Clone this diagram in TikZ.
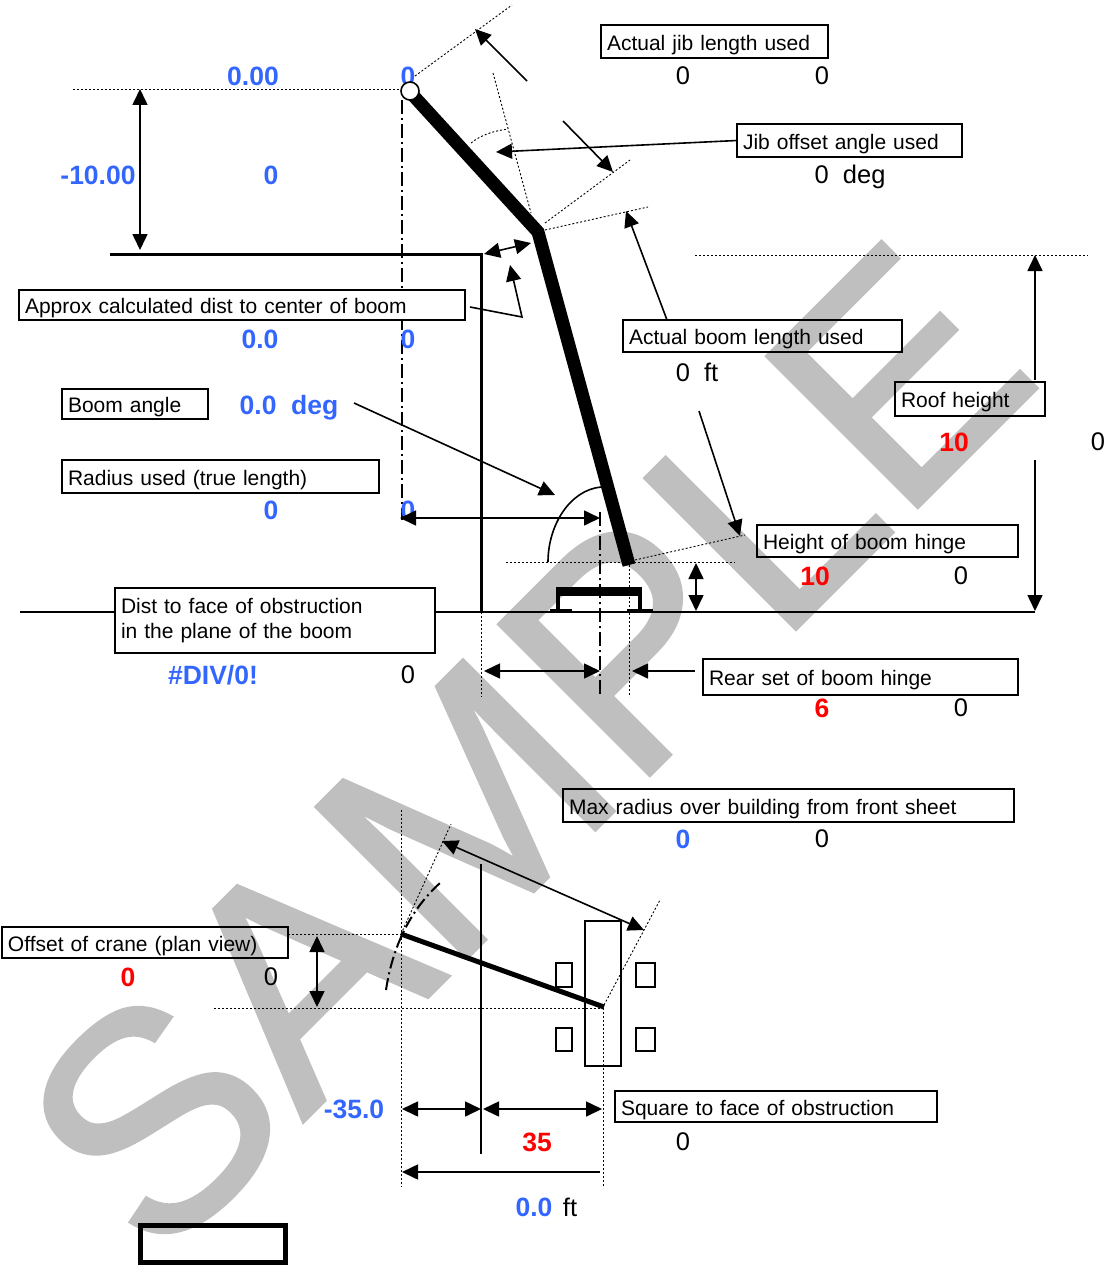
\documentclass[tikz,border=0pt]{standalone}
\usepackage{fontspec}
\setmainfont{Liberation Sans}
\newfontfamily\stampfont[FakeBold=1.2]{Liberation Sans}
\usepackage{color}
\usepackage{tikz}
\usetikzlibrary{arrows,arrows.meta,positioning,calc}
\definecolor{valblue}{HTML}{3366FF}
\definecolor{stampgray}{HTML}{BFBFBF}
\newcommand{\lowtext}[1]{\raisebox{-3.5pt}[\height][\depth]{#1}}
\tikzset{
  lblbox/.style={draw,rectangle,line width=1.6pt,anchor=north west,align=left,inner xsep=6pt,inner ysep=0pt,outer sep=0pt,font=\fontsize{21}{24.5}\selectfont},
  valblk/.style={font=\fontsize{25.5}{28}\selectfont,inner sep=0pt},
  valbl/.style={font=\fontsize{26.5}{28}\selectfont\bfseries,text=valblue,inner sep=0pt},
  valrd/.style={font=\fontsize{26.5}{28}\selectfont\bfseries,text=red,inner sep=0pt},
  refline/.style={dash pattern=on 2pt off 2pt,line width=.9pt},
  axisline/.style={dash pattern=on 14pt off 4pt on 2pt off 4pt,line width=1.6pt},
  arr/.style={arrows={-Stealth[length=16pt,width=15pt,inset=0pt]},line width=1.6pt},
  dbl/.style={arrows={Stealth[length=16pt,width=15pt,inset=0pt]-Stealth[length=16pt,width=15pt,inset=0pt]},line width=1.6pt}
}
\begin{document}
\begin{tikzpicture}[x=1pt,y=-1pt]
  \useasboundingbox (0,0) rectangle (1108,1268);
  % stamp behind the drawing
  \node[rotate=45,text=stampgray,inner sep=0pt,font=\fontsize{310}{310}\stampfont] (stamp) at (526,748) {SAMPLE};

  % center lines
  \draw[axisline] (402,100) -- (402,520);
  \draw[axisline] (600,512) -- (600,697);

  % label boxes
  \node[lblbox,text width=215pt,minimum height=33pt] (jiblen) at (601,25) {\lowtext{Actual jib length used}};
  \node[lblbox,text width=213pt,minimum height=33pt] (jibang) at (737,124) {\lowtext{Jib offset angle used}};
  \node[lblbox,text width=434pt,minimum height=30pt,fill=white] (approx) at (19,290) {\lowtext{Approx calculated dist to center of boom}};
  \node[lblbox,text width=267pt,minimum height=32pt] (boomlen) at (623,320) {\lowtext{Actual boom length used}};
  \node[lblbox,text width=134pt,minimum height=30pt] (boomang) at (62,389) {\lowtext{Boom angle}};
  \node[lblbox,text width=305pt,minimum height=33pt] (radius) at (62,460) {\lowtext{Radius used (true length)}};
  \node[lblbox,text width=138pt,minimum height=34pt] (roof) at (895,382) {\lowtext{Roof height}};
  \node[lblbox,text width=249pt,minimum height=32pt] (hinge) at (757,525) {\lowtext{Height of boom hinge}};
  \node[lblbox,text width=308pt,minimum height=65pt,fill=white] (face) at (115,588) {Dist to face of obstruction\\in the plane of the boom};
  \node[lblbox,text width=303pt,minimum height=36pt] (rear) at (703,659) {\lowtext{Rear set of boom hinge}};
  \node[lblbox,text width=439pt,minimum height=33pt] (maxrad) at (563,789) {\lowtext{Max radius over building from front sheet}};
  \node[lblbox,text width=274pt,minimum height=31pt] (offset) at (2,927) {\lowtext{Offset of crane (plan view)}};
  \node[lblbox,text width=310pt,minimum height=31pt] (square) at (615,1091) {\lowtext{Square to face of obstruction}};
  \node[draw,rectangle,line width=5pt,minimum width=145pt,minimum height=37pt,anchor=north west,outer sep=0pt] (blank) at (140,1225) {};

  % values
  \node[valbl] (tipr) at (253,76) {0.00};
  \node[valbl] (tipx) at (408,76) {0};
  \node[valbl] (droph) at (98,175) {-10.00};
  \node[valbl] (dropx) at (271,175) {0};
  \node[valbl] (distv) at (260,339) {0.0};
  \node[valbl] (distx) at (408,339) {0};
  \node[valbl] (angv) at (289,408) {0.0~~deg};
  \node[valbl] (radv) at (271,510) {0};
  \node[valbl] (radx) at (408,510) {0};
  \node[valbl] (facev) at (213,675) {\#DIV/0!};
  \node[valbl] (maxv) at (683,839) {0};
  \node[valbl] (sqv) at (354,1109) {-35.0};
  \node[valbl] (totv) at (534,1207) {0.0};
  \node[valblk] (totft) at (570,1207) {ft};
  \node[valblk] (jibv) at (683,76) {0};
  \node[valblk] (jibx) at (822,76) {0};
  \node[valblk] (jibd) at (850,177) {0~~deg};
  \node[valblk] (boomv) at (697,372) {0~~ft};
  \node[valblk] (roofx) at (1098,442) {0};
  \node[valblk] (hingex) at (961,576) {0};
  \node[valblk] (facex) at (408,675) {0};
  \node[valblk] (rearx) at (961,708) {0};
  \node[valblk] (maxx) at (822,839) {0};
  \node[valblk] (offx) at (271,977) {0};
  \node[valblk] (sqx) at (683,1142) {0};
  \node[valrd] (roofv) at (954,442) {10};
  \node[valrd] (hingev) at (815,576) {10};
  \node[valrd] (rearv) at (822,708) {6};
  \node[valrd] (offv) at (128,977) {0};
  \node[valrd] (wallv) at (537,1142) {35};

  % side view, reference lines
  \draw[refline] (73,89) -- (400,89);
  \draw[refline] (415,76) -- (512,5);
  \draw[refline] (493,73) -- (531,213);
  \draw[refline] (545,223) -- (630,160);
  \draw[refline] (545,230) -- (648,207);
  \draw[refline] (471,143) .. controls (481,135) and (493,131) .. (508,129);
  \draw[refline] (695,255) -- (1088,255);
  \draw[refline] (506,562) -- (735,562);
  \draw[refline] (635,560) -- (745,535);
  \draw[refline] (481,612) -- (481,697);
  \draw[refline] (629,565) -- (629,697);

  % building and ground
  \draw[line width=3pt] (110,254) -- (481,254) -- (481,612);
  \draw[line width=2.5pt] (20,612) -- (face.west |- 20,612);
  \draw[line width=2.5pt] (face.east |- 20,612) -- (1035,612);

  % boom and jib
  \draw[line width=13pt,miter limit=10] (410,92) -- (538,232) -- (629,565);
  \draw[line width=1.6pt,fill=white] (410,91) circle (9);
  \draw[line width=1.6pt] (548,562) .. controls (548,525) and (570,490) .. (601,487);

  % crane base
  \fill (556,587) rectangle (642,596);
  \draw[line width=3.5pt] (558,596) -- (558,611);
  \draw[line width=3.5pt] (640,596) -- (640,611);
  \fill (550,609) rectangle (572,612);
  \fill (627,609) rectangle (653,612);

  % side view arrows
  \coordinate (jibfrom) at (527,81);
  \coordinate (jibto) at (475,29);
  \coordinate (offfrom) at (563,121);
  \coordinate (offto) at (613,172);
  \coordinate (jibangto) at (496,152);
  \coordinate (boomto) at (626,211);
  \coordinate (clearl) at (484,254);
  \coordinate (clearr) at (531,243);
  \coordinate (approxk) at (522,317);
  \coordinate (approxto) at (510,265);
  \coordinate (angfrom) at (354,403);
  \coordinate (angto) at (555,495);
  \coordinate (hingefrom) at (699,411);
  \coordinate (hingeto) at (740,536);
  \draw[arr] (jibfrom) -- (jibto);
  \draw[arr] (offfrom) -- (offto);
  \draw[arr] (jibang.west) -- (jibangto);
  \draw[arr] (boomlen.north west) ++(44,0) -- (boomto);
  \draw[dbl] (clearl) -- (clearr);
  \draw[arr] (approx.east) ++(5,2) -- (approxk) -- (approxto);
  \draw[arr] (angfrom) -- (angto);
  \draw[arr] (hingefrom) -- (hingeto);
  \draw[dbl] (140,89) -- (140,250);
  \draw[dbl] (400,518) -- (600,518);
  \draw[dbl] (696,563) -- (696,611);
  \draw[dbl] (484,671) -- (600,671);
  \draw[arr] (rear.west) ++(-8,-6) -- (632,671);
  \draw[arr] (1035,380) -- (1035,255);
  \draw[arr] (1035,460) -- (1035,611);

  % plan view
  \draw[refline] (401,810) -- (401,1187);
  \draw[refline] (288,934) -- (401,934);
  \draw[refline] (214,1008) -- (604,1008);
  \draw[refline] (401,934) -- (451,824);
  \draw[refline] (604,1005) -- (660,900);
  \draw[refline] (603,1008) -- (603,1187);
  \draw[line width=2pt,dash pattern=on 12pt off 4pt on 2pt off 4pt] (386,990) .. controls (392,950) and (408,912) .. (440,883);
  \draw[line width=2pt] (481,864) -- (481,1154);
  \draw[line width=5pt] (401,934) -- (604,1007);
  \draw[line width=1.8pt] (585,921) rectangle (621,1066);
  \draw[line width=1.8pt] (556,963) rectangle (572,987);
  \draw[line width=1.8pt] (636,963) rectangle (655,987);
  \draw[line width=1.8pt] (556,1028) rectangle (572,1051);
  \draw[line width=1.8pt] (636,1028) rectangle (655,1051);
  \draw[dbl] (442,841) -- (644,930);
  \draw[dbl] (317,936) -- (317,1007);
  \draw[dbl] (402,1109) -- (481,1109);
  \draw[dbl] (483,1109) -- (602,1109);
  \draw[arr] (600,1172) -- (402,1172);
\end{tikzpicture}
\end{document}
